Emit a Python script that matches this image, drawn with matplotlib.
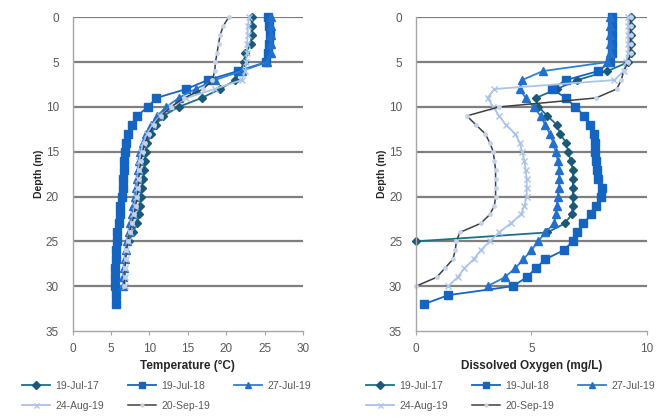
import matplotlib
matplotlib.use("Agg")
import matplotlib.pyplot as plt
import numpy as np

plt.rcParams['font.family'] = ['Liberation Sans', 'DejaVu Sans']

# ---------------- data ----------------
series_names = ["19-Jul-17", "19-Jul-18", "27-Jul-19", "24-Aug-19", "20-Sep-19"]

temp_19jul17 = [23.3, 23.3, 23.3, 23.2, 22.5, 22.3, 21.8, 21.2, 19.2, 16.8, 13.8, 11.8, 10.8,
                10.2, 9.7, 9.5, 9.4, 9.3, 9.2, 9.0, 8.9, 8.75, 8.6, 8.4, 7.8, 7.3]
temp_19jul18 = [25.5, 25.6, 25.7, 25.6, 25.5, 25.2, 21.5, 17.6, 14.8, 10.9, 9.8, 8.4, 7.7,
                7.2, 6.9, 6.8, 6.7, 6.7, 6.6, 6.5, 6.4, 6.2, 6.1, 6.0, 5.8, 5.8, 5.7, 5.6,
                5.5, 5.5, 5.5, 5.6, 5.6]
temp_27jul19 = [25.8, 25.8, 25.8, 25.8, 25.8, 25.3, 22.0, 18.5, 16.0, 13.8, 12.2, 11.0, 10.2,
                9.6, 9.1, 8.8, 8.6, 8.5, 8.4, 8.2, 8.1, 7.9, 7.7, 7.5, 7.3, 7.1, 6.9, 6.8,
                6.7, 6.6, 6.6]
temp_24aug19 = [23.0, 22.8, 22.8, 22.7, 22.7, 22.6, 22.5, 22.0, 18.5, 14.8, 12.8, 11.4, 10.4,
                9.7, 9.2, 8.9, 8.7, 8.6, 8.5, 8.4, 8.3, 8.1, 7.9, 7.7, 7.4, 7.2, 7.0, 6.9,
                6.8, 6.8, 6.8]
temp_20sep19 = [20.3, 19.6, 19.2, 19.0, 18.8, 18.6, 18.5, 18.2, 17.0, 14.5, 12.8, 11.5, 10.6,
                9.9, 9.4, 9.1, 8.9, 8.7, 8.6, 8.5, 8.4, 8.2, 8.0, 7.7, 7.4, 7.2, 7.0, 6.9,
                6.8, 6.8, 6.7]

do_19jul17 = [9.3, 9.3, 9.3, 9.3, 9.3, 9.2, 8.3, 7.0, 6.1, 5.2, 5.3, 5.7, 6.1, 6.25, 6.5,
              6.6, 6.7, 6.8, 6.8, 6.8, 6.8, 6.8, 6.75, 6.45, 5.7, 0.0]
do_19jul18 = [8.5, 8.5, 8.5, 8.5, 8.5, 8.4, 7.9, 6.5, 5.9, 6.5, 6.9, 7.3, 7.55, 7.7, 7.75,
              7.75, 7.8, 7.85, 7.9, 8.05, 8.0, 7.8, 7.6, 7.25, 7.0, 6.8, 6.4, 5.6, 5.2, 4.8,
              4.2, 1.4, 0.35]
do_27jul19 = [8.4, 8.4, 8.4, 8.4, 8.4, 8.3, 5.5, 4.6, 4.5, 4.75, 5.1, 5.4, 5.6, 5.8, 5.95,
              6.05, 6.15, 6.2, 6.2, 6.2, 6.15, 6.1, 6.05, 6.0, 5.6, 5.3, 5.0, 4.65, 4.3, 3.85,
              3.1]
do_24aug19 = [9.2, 9.2, 9.2, 9.2, 9.2, 9.1, 9.0, 8.6, 3.4, 3.1, 3.35, 3.6, 3.9, 4.3, 4.5,
              4.6, 4.7, 4.75, 4.8, 4.8, 4.8, 4.7, 4.55, 4.1, 3.6, 3.2, 2.8, 2.5, 2.1, 1.8,
              1.4]
do_20sep19 = [9.3, 9.3, 9.3, 9.3, 9.3, 9.2, 9.0, 8.9, 8.7, 7.8, 3.6, 2.2, 2.6, 3.0, 3.2,
              3.35, 3.4, 3.45, 3.45, 3.45, 3.45, 3.4, 3.2, 2.8, 1.9, 1.75, 1.7, 1.6, 1.25,
              0.9, 0.0]

temp_series = [temp_19jul17, temp_19jul18, temp_27jul19, temp_24aug19, temp_20sep19]
do_series = [do_19jul17, do_19jul18, do_27jul19, do_24aug19, do_20sep19]

temp_ticks = [0, 5, 10, 15, 20, 25, 30]
do_ticks = [0, 5, 10]
depth_ticks = [0, 5, 10, 15, 20, 25, 30, 35]

# ---------------- styles ----------------
styles = [
    dict(color="#1f6f8b", marker="D", markersize=4.5, mfc="#1a5a78", mec="#1a5a78", lw=1.3),
    dict(color="#1565c0", marker="s", markersize=5.5, mfc="#1565c0", mec="#1565c0", lw=1.3),
    dict(color="#2f7fd6", marker="^", markersize=5.5, mfc="#2370cc", mec="#2370cc", lw=1.3),
    dict(color="#a9c3ea", marker="x", markersize=4.5, mfc="#a9c3ea", mec="#a9c3ea", lw=1.3, mew=1.0),
    dict(color="#404040", marker="o", markersize=2.5, mfc="#c3d3ee", mec="#c3d3ee", lw=1.1),
]

W, H = 662, 419
fig = plt.figure(figsize=(W / 100, H / 100), dpi=100)

def make_ax(left_px, right_px, xticks, xlabel):
    top_px, bottom_px = 17.3, 331
    ax = fig.add_axes([left_px / W, 1 - bottom_px / H, (right_px - left_px) / W,
                       (bottom_px - top_px) / H])
    ax.set_ylim(35, 0)
    ax.set_xlim(xticks[0], xticks[-1])
    ax.set_xticks(xticks)
    ax.set_yticks(depth_ticks)
    for y in depth_ticks[:-1]:
        ax.axhline(y, color="#7f7f7f", lw=1.6, zorder=0.5)
    for s in ["top", "right"]:
        ax.spines[s].set_visible(False)
    ax.spines["left"].set_color("#a6a6a6")
    ax.spines["bottom"].set_color("#a6a6a6")
    ax.spines["left"].set_linewidth(1.0)
    ax.spines["bottom"].set_linewidth(1.0)
    ax.tick_params(axis="x", colors="#a6a6a6", labelcolor="#595959", labelsize=8.5,
                   length=3, pad=6)
    ax.tick_params(axis="y", colors="#a6a6a6", labelcolor="#595959", labelsize=8.5,
                   length=0, pad=10)
    ax.set_ylabel("Depth (m)", fontsize=7.5, fontweight="bold", color="#262626", labelpad=1)
    ax.set_xlabel(xlabel, fontsize=8.5, fontweight="bold", color="#262626", labelpad=3)
    return ax

ax1 = make_ax(72.7, 303, temp_ticks, "Temperature (\u00b0C)")
ax2 = make_ax(416, 646.7, do_ticks, "Dissolved Oxygen (mg/L)")

for ax, data in [(ax1, temp_series), (ax2, do_series)]:
    for name, vals, st in zip(series_names, data, styles):
        depth = np.arange(len(vals))
        ax.plot(vals, depth, label=name, clip_on=False, **st)

order = [0, 3, 1, 4, 2]
for ax, x0 in [(ax1, 22), (ax2, 366)]:
    h, l = ax.get_legend_handles_labels()
    fig.legend([h[i] for i in order], [l[i] for i in order], loc="upper left",
               bbox_to_anchor=(x0 / W, 1 - 381 / H), ncol=3,
               frameon=False, fontsize=7.5, handlelength=2.7, handletextpad=0.5,
               columnspacing=2.3, labelspacing=0.95, borderaxespad=0, borderpad=0,
               markerscale=0.8, labelcolor="#595959")

fig.savefig("out.png", dpi=100)
